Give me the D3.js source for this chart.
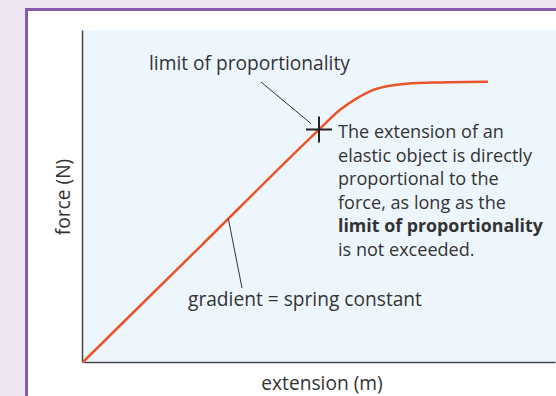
<!DOCTYPE html>
<html>
<head>
<meta charset="utf-8">
<script src="https://cdn.jsdelivr.net/npm/d3@7"></script>
<style>
html, body { margin: 0; padding: 0; background: #ede6f2; }
svg text { font-family: "Open Sans", sans-serif; fill: #333; }
</style>
</head>
<body>
<div id="chart"></div>
<script>
// force-extension curve (arbitrary units 0..10)
var extension = [0, 2.5, 5.0, 5.44, 5.80, 6.14, 6.50, 6.86, 7.56, 8.58];
var force     = [0, 3.5, 7.0, 7.59, 7.94, 8.19, 8.32, 8.38, 8.42, 8.44];

var limitPoint = {x: 5.0, y: 7.0};
var gradientPoint = {x: 3.08, y: 4.31};

var noteLines = [
  "The extension of an",
  "elastic object is directly",
  "proportional to the",
  "force, as long as the",
  "limit of proportionality",
  "is not exceeded."
];

var W = 556, H = 396;
var plot = {left: 82, right: 556, top: 30, bottom: 362};

var svg = d3.select("#chart").append("svg")
  .attr("width", W).attr("height", H);

// font sizes fitted to the text widths seen in the picture
function fitSize(txt, target, weight) {
  var p = svg.append("text").attr("font-size", 20).attr("font-weight", weight || null).text(txt);
  var s = 20 * target / p.node().getComputedTextLength();
  p.remove();
  return s;
}
var fs = fitSize("limit of proportionality", 201);
var noteFs = fitSize("elastic object is directly", 194);
var boldFs = fitSize("limit of proportionality", 205, "bold");

// white panel with purple border
svg.append("rect")
  .attr("x", 26.5).attr("y", 9.5)
  .attr("width", 600).attr("height", 420)
  .attr("fill", "#fff")
  .attr("stroke", "#8c5aab")
  .attr("stroke-width", 3);

svg.append("rect")
  .attr("x", plot.left).attr("y", plot.top)
  .attr("width", plot.right - plot.left).attr("height", plot.bottom - plot.top)
  .attr("fill", "#eef6fd");

var x = d3.scaleLinear().domain([0, 10]).range([plot.left + 1, plot.right - 1]);
var y = d3.scaleLinear().domain([0, 10]).range([plot.bottom, plot.top]);

var xAxis = d3.axisBottom(x).tickValues([]).tickSizeOuter(0);
var yAxis = d3.axisLeft(y).tickValues([]).tickSizeOuter(0);

svg.append("g").attr("transform", "translate(0," + plot.bottom + ")").call(xAxis)
  .select(".domain").attr("stroke", "#444").attr("stroke-width", 1.5);
svg.append("g").attr("transform", "translate(" + plot.left + ",0)").call(yAxis)
  .select(".domain").attr("stroke", "#444").attr("stroke-width", 1.5);

var line = d3.line()
  .x(function(d, i) { return x(extension[i]); })
  .y(function(d, i) { return y(force[i]); })
  .curve(d3.curveMonotoneX);

svg.append("path")
  .datum(force)
  .attr("d", line)
  .attr("fill", "none")
  .attr("stroke", "#e8562a")
  .attr("stroke-width", 2.5);

// leader lines
var lx = x(limitPoint.x), ly = y(limitPoint.y);
svg.append("line")
  .attr("x1", 261).attr("y1", 82)
  .attr("x2", lx - 8).attr("y2", ly - 6)
  .attr("stroke", "#333").attr("stroke-width", 1);

var gx = x(gradientPoint.x), gy = y(gradientPoint.y);
svg.append("line")
  .attr("x1", gx).attr("y1", gy)
  .attr("x2", 242).attr("y2", 288)
  .attr("stroke", "#333").attr("stroke-width", 1);

// cross at the limit of proportionality
svg.append("path")
  .attr("d", "M" + (lx - 13) + "," + ly + "H" + (lx + 13) + "M" + lx + "," + (ly - 13) + "V" + (ly + 13))
  .attr("stroke", "#222").attr("stroke-width", 2);

svg.append("text")
  .attr("x", 149).attr("y", 70)
  .attr("font-size", fs)
  .text("limit of proportionality");

svg.append("text")
  .attr("x", 188).attr("y", 306)
  .attr("font-size", fs)
  .text("gradient = spring constant");

var note = svg.append("text").attr("font-size", noteFs);
noteLines.forEach(function(t, i) {
  note.append("tspan")
    .attr("x", 338).attr("y", 138 + i * 23.6)
    .attr("font-weight", i === 4 ? "bold" : null)
    .attr("font-size", i === 4 ? boldFs : null)
    .text(t);
});

svg.append("text")
  .attr("x", 322).attr("y", 390)
  .attr("text-anchor", "middle")
  .attr("font-size", fs)
  .text("extension (m)");

svg.append("text")
  .attr("transform", "translate(70,197) rotate(-90)")
  .attr("text-anchor", "middle")
  .attr("font-size", fs)
  .text("force (N)");
</script>
</body>
</html>
